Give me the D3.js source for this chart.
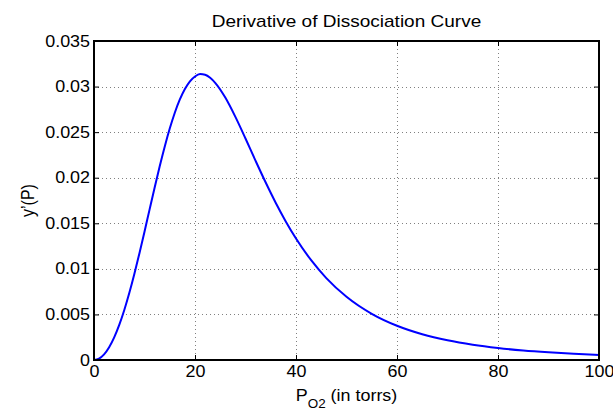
<!DOCTYPE html>
<html>
<head>
<meta charset="utf-8">
<script src="https://cdn.jsdelivr.net/npm/d3@7"></script>
<style>
  html, body { margin: 0; padding: 0; background: #fff; }
  svg { display: block; }
  text { font-family: "Liberation Sans", Arial, Helvetica, sans-serif; fill: #000; }
</style>
</head>
<body>
<svg id="chart" width="613" height="412"></svg>
<script>
// ---- data ----
const pressure = [0, 1, 2, 3, 4, 5, 6, 7, 8, 9, 10, 11, 12, 13, 14, 15, 16, 17, 18, 19, 20, 21, 22, 23, 24,
  26, 28, 30, 32, 34, 36, 38, 40, 43, 46, 50, 55, 60, 65, 70, 75, 80, 85, 90, 95, 100];
const derivative = [0, 0.00016, 0.00062, 0.00140, 0.00248, 0.00385, 0.00549, 0.00737, 0.00946, 0.01172,
  0.01408, 0.01650, 0.01890, 0.02122, 0.02340, 0.02539, 0.02713, 0.02859, 0.02974, 0.03058, 0.03111,
  0.03137, 0.03130, 0.03097, 0.03041, 0.02879, 0.02667, 0.02430, 0.02185, 0.01947, 0.01723, 0.01518,
  0.01333, 0.01095, 0.00899, 0.00694, 0.00507, 0.00376, 0.00283, 0.00216, 0.00167, 0.00131, 0.00104,
  0.00084, 0.00068, 0.00056];
const xTicks = [0, 20, 40, 60, 80, 100];
const yTicks = [0, 0.005, 0.01, 0.015, 0.02, 0.025, 0.03, 0.035];
const yTickLabels = ["0", "0.005", "0.01", "0.015", "0.02", "0.025", "0.03", "0.035"];
const titleText = "Derivative of Dissociation Curve";
const yLabelText = "y’(P)";

// ---- layout ----
const L = 94, R = 599, T = 41, B = 360;
const SX = 1.12; // horizontal stretch of text (reference is horizontally stretched)
const svg = d3.select("#chart");
const x = d3.scaleLinear().domain([0, 100]).range([L, R]);
const y = d3.scaleLinear().domain([0, 0.035]).range([B, T]);

// grid
const grid = svg.append("g");
grid.selectAll("line.gx").data(xTicks.slice(1, -1)).enter().append("line")
  .attr("x1", d => Math.round(x(d)) + 0.5).attr("x2", d => Math.round(x(d)) + 0.5).attr("y1", T).attr("y2", B)
  .attr("stroke", "#808080").attr("stroke-width", 1).attr("stroke-dasharray", "1,3");
grid.selectAll("line.gy").data(yTicks.slice(1, -1)).enter().append("line")
  .attr("x1", L).attr("x2", R).attr("y1", d => Math.round(y(d)) + 0.5).attr("y2", d => Math.round(y(d)) + 0.5)
  .attr("stroke", "#808080").attr("stroke-width", 1).attr("stroke-dasharray", "1,3");

// curve
const line = d3.line().x((d, i) => x(pressure[i])).y(d => y(d)).curve(d3.curveMonotoneX);
svg.append("path").datum(derivative).attr("d", line)
  .attr("fill", "none").attr("stroke", "#0000ff").attr("stroke-width", 2);

// axes (MATLAB style box, inward ticks)
const tickLen = 5;
const axB = d3.axisBottom(x).tickValues(xTicks).tickSize(-tickLen).tickPadding(6).tickFormat(d3.format("d"));
const axT = d3.axisTop(x).tickValues(xTicks).tickSize(-tickLen).tickFormat("");
const axL = d3.axisLeft(y).tickValues(yTicks).tickSize(-tickLen).tickPadding(6).tickFormat((d, i) => yTickLabels[i]);
const axR = d3.axisRight(y).tickValues(yTicks).tickSize(-tickLen).tickFormat("");

function styleAxis(g) {
  g.select(".domain").remove();
  g.selectAll(".tick line").attr("stroke", "#000").attr("stroke-width", 1);
  g.selectAll(".tick text").attr("font-size", 16).attr("fill", "#000")
    .attr("font-family", "Liberation Sans, Arial, sans-serif");
}
const gB = svg.append("g").attr("transform", `translate(0,${B})`).call(axB).call(styleAxis);
svg.append("g").attr("transform", `translate(0,${T})`).call(axT).call(styleAxis);
const gL = svg.append("g").attr("transform", `translate(${L},0)`).call(axL).call(styleAxis);
svg.append("g").attr("transform", `translate(${R},0)`).call(axR).call(styleAxis);
// box
svg.append("rect").attr("x", L).attr("y", T).attr("width", R - L).attr("height", B - T)
  .attr("fill", "none").attr("stroke", "#000").attr("stroke-width", 2);

// stretch tick text horizontally
gB.selectAll(".tick text").attr("transform", `scale(${SX},1)`).attr("x", 0).attr("dy", "0.71em").attr("y", 6);
gL.selectAll(".tick text").attr("transform", `scale(${SX},1)`).attr("x", -4 / SX);

// title
svg.append("text").attr("transform", `translate(${(L + R) / 2},27) scale(${SX},1)`)
  .attr("text-anchor", "middle").attr("font-size", 17).text(titleText);

// y label
svg.append("text").attr("transform", `translate(34,${(T + B) / 2}) rotate(-90) scale(1,${SX})`)
  .attr("text-anchor", "middle").attr("font-size", 16).text(yLabelText);

// x label with subscript
const xl = svg.append("text").attr("transform", `translate(${(L + R) / 2},401) scale(${SX},1)`)
  .attr("text-anchor", "middle").attr("font-size", 16);
xl.append("tspan").text("P");
xl.append("tspan").attr("dy", 7).attr("font-size", 12).text("O2");
xl.append("tspan").attr("dy", -7).text(" (in torrs)");
</script>
</body>
</html>
